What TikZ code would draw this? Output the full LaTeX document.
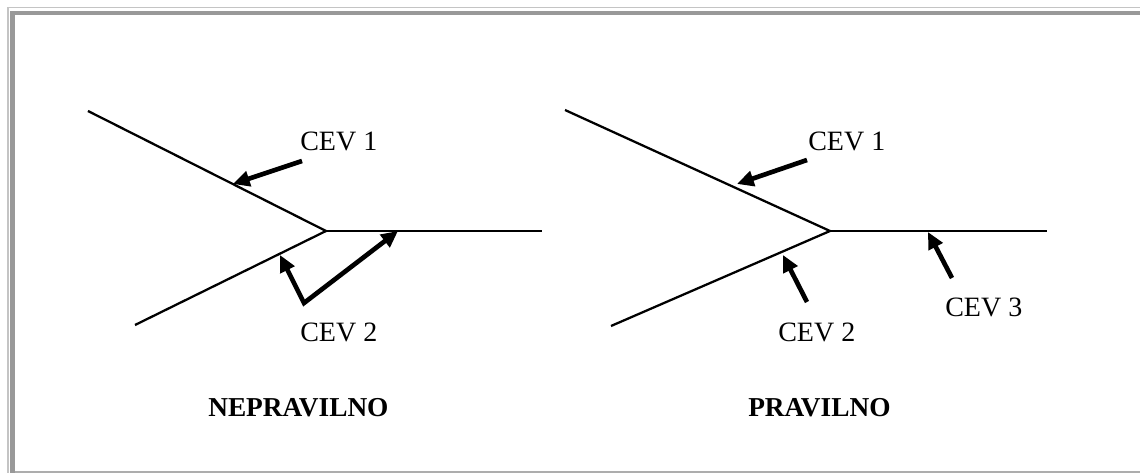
\documentclass[tikz,border=0pt]{standalone}
\usepackage{fontspec}
\setmainfont{Liberation Serif}
\usetikzlibrary{arrows.meta}
\definecolor{frameDark}{HTML}{999999}
\definecolor{frameLight}{HTML}{C4C4C4}
\begin{document}
\begin{tikzpicture}[x=0.75pt,y=-0.75pt,
  thinline/.style={line width=1.7pt,line cap=butt},
  tipstyle/.style={},
  fatarrow/.style={line width=3.5pt,-{Triangle[length=12.5pt,width=11.5pt]}},
  lbl/.style={anchor=base west,inner sep=0pt,font=\fontsize{21}{25}\selectfont},
  title/.style={anchor=base west,inner sep=0pt,font=\fontsize{20.5}{25}\selectfont\bfseries}]
\useasboundingbox (0,0) rectangle (1140,473);
% frame
\fill[frameLight] (7,7) rectangle (1140,8.5);
\fill[frameLight] (7,7) rectangle (8.5,473);
\fill[frameDark] (10,11) rectangle (1140,15);
\fill[frameDark] (10,11) rectangle (15,473);
\fill[frameDark!80] (15,470.8) rectangle (1140,473);
% left figure
\coordinate (LU) at (88,111);
\coordinate (LL) at (135,325);
\coordinate (LV) at (326,231);
\coordinate (LR) at (542,231);
\draw[thinline] (LU) -- (LV) -- (LL);
\draw[thinline] (LV) -- (LR);
\coordinate (LA1t) at (302,161);
\coordinate (LA1h) at (233,184);
\coordinate (LA2v) at (304,303);
\coordinate (LA2h) at (280,255);
\coordinate (LA3h) at (398,231);
\draw[fatarrow] (LA1t) -- (LA1h);
\draw[line width=3.5pt,{Triangle[length=12.5pt,width=11.5pt]}-{Triangle[length=12.5pt,width=11.5pt]},line join=miter] (LA2h) -- (LA2v) -- (LA3h);
\node[lbl] (lc1) at (300,151) {CEV 1};
\node[lbl] (lc2) at (300,342) {CEV 2};
\node[title] (lt) at (208,417) {NEPRAVILNO};
% right figure
\coordinate (RU) at (565,110);
\coordinate (RL) at (611,326);
\coordinate (RV) at (830,231);
\coordinate (RR) at (1047,231);
\draw[thinline] (RU) -- (RV) -- (RL);
\draw[thinline] (RV) -- (RR);
\coordinate (RA1t) at (807,160);
\coordinate (RA1h) at (737,184);
\coordinate (RA2t) at (807,302);
\coordinate (RA2h) at (783,255);
\coordinate (RA3t) at (952,278);
\coordinate (RA3h) at (928,232);
\draw[fatarrow] (RA1t) -- (RA1h);
\draw[fatarrow] (RA2t) -- (RA2h);
\draw[fatarrow] (RA3t) -- (RA3h);
\node[lbl] (rc1) at (808,151) {CEV 1};
\node[lbl] (rc2) at (778,342) {CEV 2};
\node[lbl] (rc3) at (945,317) {CEV 3};
\node[title] (rt) at (748,417) {PRAVILNO};
\end{tikzpicture}
\end{document}
